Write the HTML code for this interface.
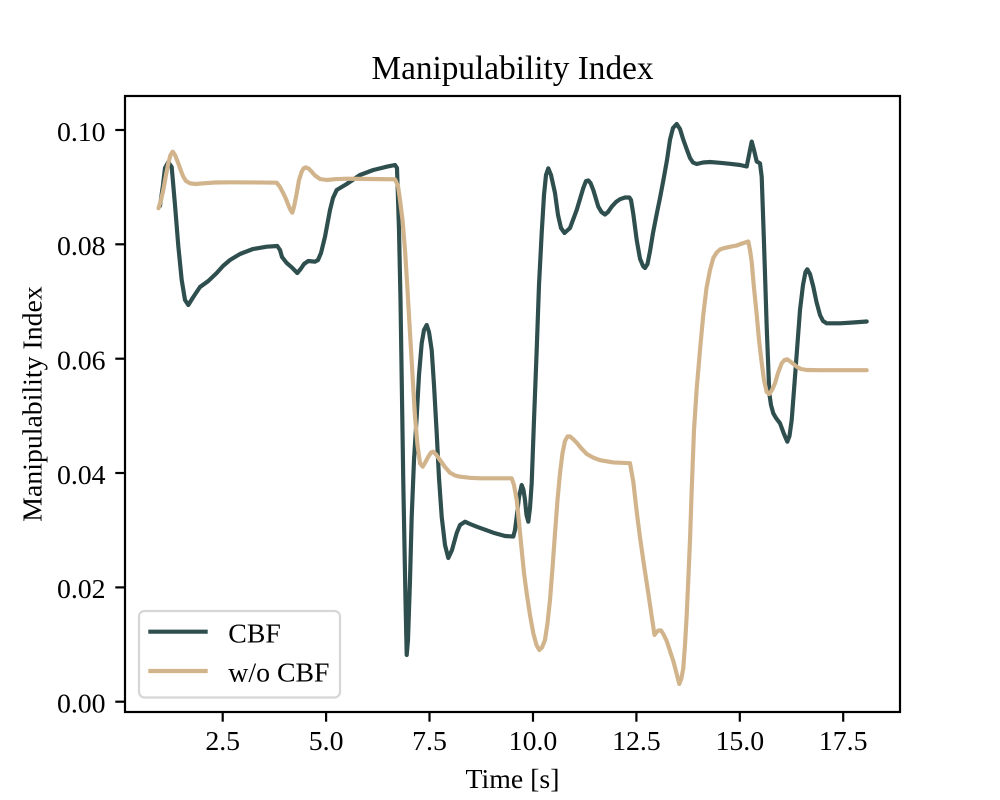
<!DOCTYPE html>
<html>
<head>
<meta charset="utf-8">
<style>
  html, body { margin:0; padding:0; background:#ffffff; }
  svg { display:block; }
  text { font-family: "Liberation Serif", "Times New Roman", serif; fill:#000; }
</style>
</head>
<body>
<svg width="1000" height="800" viewBox="0 0 1000 800" xmlns="http://www.w3.org/2000/svg">
  <rect x="0" y="0" width="1000" height="800" fill="#ffffff"/>
  <defs>
    <clipPath id="ax"><rect x="125" y="96" width="775" height="616"/></clipPath>
  </defs>

  <g clip-path="url(#ax)" fill="none" stroke-linejoin="round" stroke-linecap="round" stroke-width="4.17">
    <polyline stroke="#2F4F4F" points="
160,206 163,185 165,168 168.3,162 171.7,167 175,205 178.3,246 181.7,280 185,300 188.3,305 193.3,297 200,287 208.3,281 216.7,273 223,266 230,260 240,254 253,249 266.7,246.7 277.3,246 280,250 282,257 286.7,263 291.7,267.3 297.3,273 301,268.5 304,264 308.3,261 315,261.7 318,260 321,253 325,236.7 330,210 333,198 336.7,190 346.7,184 360,175 373.3,170 386.7,166.7 395,165 397,168 399,230 400.5,300 403.3,483 405.5,600 406.7,655 408,640 410,580 411.7,516.7 414,460 416.7,416.7 419,375 421.7,343.3 424,330 426.7,325 429,332 431.7,350 434,385 436.7,433 439,478 441.7,516.7 445,545 448.3,558 452,550 456.7,533 460,525 465,521.7 470,524 476.7,526.7 485,529.7 493.3,532.7 505,536 513.3,536.5 515,530 516.7,516.7 519,497 521.7,485 523.5,490 525,500 526.5,515 528.3,521.7 530,508 531.7,483 534,420 536.7,350 539,285 541.7,233 544,195 546,175 548.3,168.3 551,175 555,193 558,215 561,228 564.5,233 570,228 576.7,210 583.3,188 586,181 588.3,180.5 590.5,183 593.3,190 596,199 598.3,206.7 601.5,212 605,214.5 608,212 611.7,206.7 616,202 620,199.2 625,197.5 629.3,197.4 631,200 633.3,214 636.7,240 640,258.7 643,266 645,268 647.5,264 650,251.3 653,233 656.7,214 660,198 663.3,180.6 667,160 670,139.7 673,128 676.7,124 680,129 683.3,139.7 687,150 690,158 693,162.5 696.7,164 703,162.5 710,162 720,162.8 730,163.8 740,165 746.7,166.5 749,155 751.7,141.6 754,150 756.7,161.5 760,163.3 761.7,176.7 764,243 766.7,326.7 769.3,393.3 771,405 773.3,413.3 776,418 780,423.3 784,434 787.3,441.7 789.5,436 791.7,420 795,376.7 800,310 803,285 805.5,272 807.3,269.3 810,274 813.3,286.7 816.5,302 820,315 823,321 826.7,323.3 840,323.3 853,322.5 866.7,321.5"/>
    <polyline stroke="#D2B48C" points="
158.5,208.3 161,200 163.3,190 166,175 168.3,163.3 170.5,155 172.7,151.7 175,155 178.3,163.3 181,171 183.3,176.7 186,181 190,183.3 196,184 203.3,183.3 215,182.5 230,182.3 250,182.4 276.7,182.7 280,187 283.3,193.3 286,199 288.3,205 290.5,210 292.3,212.7 294,207 296.7,193.3 299,180 301.7,171.7 303.5,168.5 305.7,167.3 308.5,168.5 311.7,171.7 315,175.5 320,179 326.7,180 335,179.2 346.7,178.7 370,179 395,179.3 398,186 400,200 402.5,220 405,250 407.5,290 410,333 412.5,375 415,416.7 417.5,445 420,463.3 422.7,466.7 425.5,462 428.3,456.7 431,452.5 433.3,451.7 436.5,455 440,460 445,467 450,472.7 455,475.5 460,476.7 470,477.8 480,478.3 511.7,478.3 514,485 516.7,500 519,522 521.7,550 524,573 526.7,593.3 530,615 533.3,633.3 536.5,645 539.3,650 542,647.5 545,640 547.5,623 550,600 552.5,568 555,533.3 557.5,500 560,473.3 562.5,453 565,441 567.5,436.5 570,436.5 573,439 576.7,442.7 581,448 586.7,453.9 593,457.5 600,460.2 613.3,462.4 630,463.2 633.3,481.7 636.5,510 640,537.5 644,565 648.3,593.3 651.5,615 654.5,635 656.7,632 658.3,630.5 661,630.5 663.3,634 666.7,641 670,651 673.3,661 676.7,674 679.3,684 681.5,678 683.3,668 685,645 686.7,615 688.5,575 690,540 691.7,490 694,430 696.7,388.8 700,350 703.3,314.5 706.5,288 710,270 713.3,258 716.7,252.5 720,249.5 723.3,248.3 730,246.8 736.7,245.5 742,243.5 748.3,241.5 750,250 751.7,262 754,288 756.7,314.5 759,340 761.7,362.8 764,380 766.7,392 769.3,394 772,390 775,383.3 778,373 781.7,363.3 784.5,360 787.3,359.3 791,362 796.7,366.7 801,369 806.7,370 820,370.2 866.7,370.2"/>
  </g>

  <!-- spines -->
  <rect x="125" y="96" width="775" height="616" fill="none" stroke="#000" stroke-width="2.2"/>

  <!-- ticks -->
  <g stroke="#000" stroke-width="2.2">
    <line x1="222.7" y1="712" x2="222.7" y2="721.7"/>
    <line x1="326.1" y1="712" x2="326.1" y2="721.7"/>
    <line x1="429.5" y1="712" x2="429.5" y2="721.7"/>
    <line x1="533.0" y1="712" x2="533.0" y2="721.7"/>
    <line x1="636.4" y1="712" x2="636.4" y2="721.7"/>
    <line x1="739.8" y1="712" x2="739.8" y2="721.7"/>
    <line x1="843.2" y1="712" x2="843.2" y2="721.7"/>
    <line x1="115.3" y1="701.7" x2="125" y2="701.7"/>
    <line x1="115.3" y1="587.4" x2="125" y2="587.4"/>
    <line x1="115.3" y1="473.0" x2="125" y2="473.0"/>
    <line x1="115.3" y1="358.7" x2="125" y2="358.7"/>
    <line x1="115.3" y1="244.3" x2="125" y2="244.3"/>
    <line x1="115.3" y1="130.0" x2="125" y2="130.0"/>
  </g>

  <g font-size="27.8" text-anchor="middle">
    <text x="222.7" y="750">2.5</text>
    <text x="326.1" y="750">5.0</text>
    <text x="429.5" y="750">7.5</text>
    <text x="533.0" y="750">10.0</text>
    <text x="636.4" y="750">12.5</text>
    <text x="739.8" y="750">15.0</text>
    <text x="843.2" y="750">17.5</text>
  </g>
  <g font-size="27.8" text-anchor="end">
    <text x="105.6" y="712.5">0.00</text>
    <text x="105.6" y="598.2">0.02</text>
    <text x="105.6" y="483.8">0.04</text>
    <text x="105.6" y="369.5">0.06</text>
    <text x="105.6" y="255.1">0.08</text>
    <text x="105.6" y="140.8">0.10</text>
  </g>

  <text x="512.5" y="788" font-size="27.8" text-anchor="middle">Time [s]</text>
  <text transform="translate(41.5,404) rotate(-90)" x="0" y="0" font-size="27.8" text-anchor="middle">Manipulability Index</text>
  <text x="512.5" y="79" font-size="33.3" text-anchor="middle">Manipulability Index</text>

  <!-- legend -->
  <rect x="139" y="611" width="201" height="86.5" rx="5.5" ry="5.5" fill="#ffffff" fill-opacity="0.8" stroke="#d6d6d6" stroke-width="2.2"/>
  <line x1="148.3" y1="631.7" x2="207.7" y2="631.7" stroke="#2F4F4F" stroke-width="4.17"/>
  <line x1="148.3" y1="671" x2="207.7" y2="671" stroke="#D2B48C" stroke-width="4.17"/>
  <text x="228.3" y="642.3" font-size="27.8">CBF</text>
  <text x="228.3" y="681.5" font-size="27.8">w/o CBF</text>
</svg>
</body>
</html>
